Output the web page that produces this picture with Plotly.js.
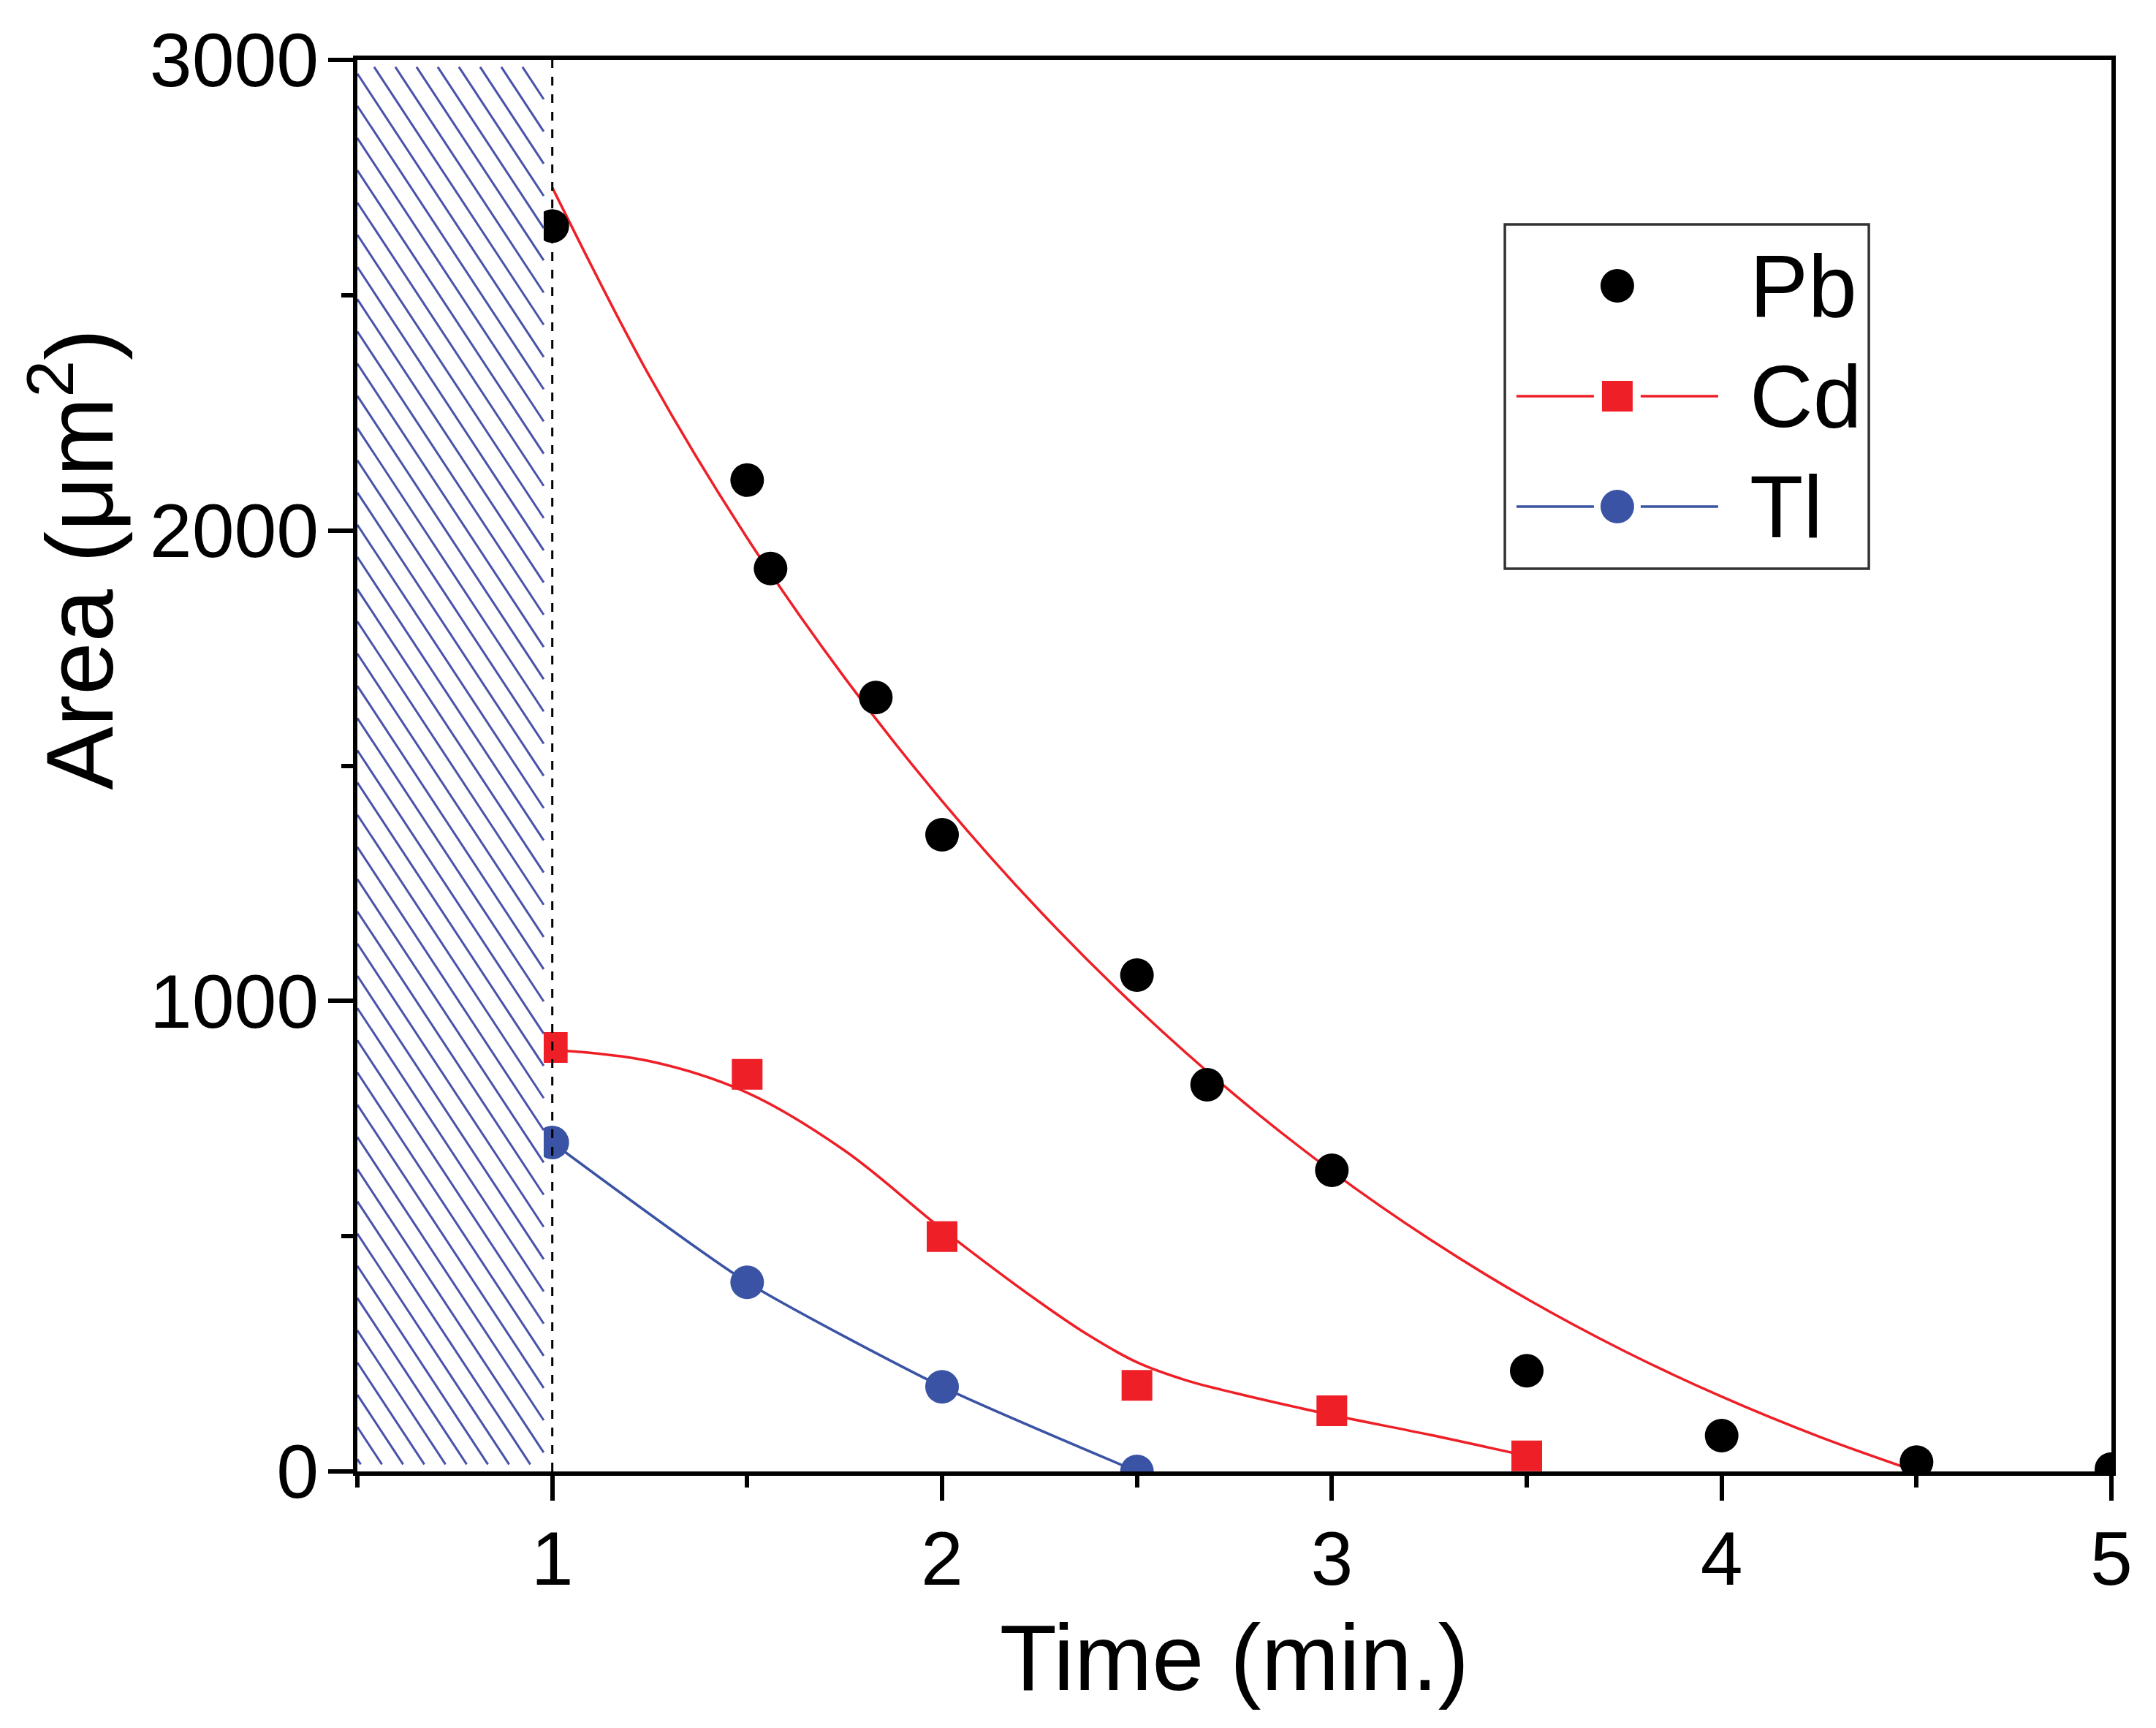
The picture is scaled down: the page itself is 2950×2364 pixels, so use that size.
<!DOCTYPE html>
<html>
<head>
<meta charset="utf-8">
<script src="https://cdn.plot.ly/plotly-3.0.1.min.js"></script>
<style>
  html, body { margin: 0; padding: 0; background: #fff; }
  #myDiv { width: 2950px; height: 2364px; }
</style>
</head>
<body>
<div id="myDiv"></div>
<script>
// measured points
var pbTime = [1, 1.5, 1.56, 1.83, 2, 2.5, 2.68, 3, 3.5, 4, 4.5, 5];
var pbArea = [2647, 2107, 1919, 1645, 1353, 1055, 822, 640, 214, 76, 20, 5];

var cdTime = [1, 1.5, 2, 2.5, 3, 3.5];
var cdArea = [901, 844, 499, 183, 129, 33];

var tlTime = [1, 1.5, 2, 2.5];
var tlArea = [699, 402, 180, 0];

// fitted curves
var pbFitTime = [1, 1.25, 1.5, 1.75, 2, 2.25, 2.5, 2.75, 3, 3.25, 3.5, 3.75, 4, 4.25, 4.5];
var pbFitArea = [2729, 2327, 1984, 1687, 1425, 1192, 985, 801, 638, 494, 367, 256, 159, 74, 0];

var cdFitTime = [1, 1.25, 1.5, 1.75, 2, 2.25, 2.375, 2.5, 2.625, 2.75, 3, 3.25, 3.5];
var cdFitArea = [896, 872, 805, 682, 515, 360, 290, 232, 194, 167, 120, 78, 33];

var legendNames = ['Pb', 'Cd', 'Tl'];

var RED = '#ee1f27';
var BLUE = '#3a53a4';
var FONT = 'Liberation Sans, Arial, sans-serif';

var xRange = [0.5, 5];
var yRange = [0, 3000];

// hatched band left of the dashed line
var hatchX = [0.5, 0.978];
var hatchY = [15, 2985];
var pxPerX = 2400 / (xRange[1] - xRange[0]);
var pxPerY = 1931 / (yRange[1] - yRange[0]);
var gapPx = 29, slopePx = 1.52;
var slope = slopePx * pxPerX / pxPerY;        // y units per x unit
var step = gapPx * slopePx / pxPerY;          // vertical spacing in y units

var hx = [], hy = [];
var cTop = hatchY[1] + slope * (hatchX[1] - hatchX[0]);
for (var c = cTop; c > hatchY[0]; c -= step) {
    var xa = Math.max(hatchX[0], hatchX[0] + (c - hatchY[1]) / slope);
    var xb = Math.min(hatchX[1], hatchX[0] + (c - hatchY[0]) / slope);
    if (xb <= xa) continue;
    hx.push(xa, xb, null);
    hy.push(c - slope * (xa - hatchX[0]), c - slope * (xb - hatchX[0]), null);
}

var data = [
    {
        x: pbFitTime, y: pbFitArea, mode: 'lines',
        line: {color: RED, width: 3.5, shape: 'spline', smoothing: 1},
        hoverinfo: 'skip'
    },
    {
        x: cdFitTime, y: cdFitArea, mode: 'lines',
        line: {color: RED, width: 3.5, shape: 'spline', smoothing: 1},
        hoverinfo: 'skip'
    },
    {
        x: tlTime, y: tlArea, mode: 'lines+markers', name: 'Tl',
        line: {color: BLUE, width: 3.5, shape: 'spline', smoothing: 0.6},
        marker: {color: BLUE, size: 46, symbol: 'circle'}
    },
    {
        x: cdTime, y: cdArea, mode: 'markers', name: 'Cd',
        marker: {color: RED, size: 42, symbol: 'square'}
    },
    {
        x: pbTime, y: pbArea, mode: 'markers', name: 'Pb',
        marker: {color: 'black', size: 46, symbol: 'circle'}
    },
    {
        x: [hatchX[0], hatchX[1], hatchX[1], hatchX[0]],
        y: [yRange[0], yRange[0], yRange[1], yRange[1]],
        mode: 'none', fill: 'toself', fillcolor: 'white',
        hoverinfo: 'skip'
    },
    {
        x: hx, y: hy, mode: 'lines',
        line: {color: '#4a52aa', width: 3},
        hoverinfo: 'skip'
    }
];

// custom legend (plotly caps legend markers at 16px)
var legX = 0.7183, legText = 0.7929;
var legY = [0.8400, 0.7618, 0.6836];
var legColor = ['black', RED, BLUE];
var legSymbol = ['circle', 'rect', 'circle'];
var legLine = [false, true, true];

var shapes = [
    {
        type: 'line', xref: 'x', yref: 'y', x0: 1, x1: 1, y0: yRange[0], y1: yRange[1],
        line: {color: 'black', width: 3, dash: '12px,12px'}
    },
    {
        type: 'rect', xref: 'paper', yref: 'paper',
        x0: 0.6542, x1: 0.8617, y0: 0.6396, y1: 0.8835,
        line: {color: '#333', width: 3.5}, fillcolor: 'rgba(0,0,0,0)'
    }
];
var annotations = [];

legendNames.forEach(function (name, i) {
    if (legLine[i]) {
        [[-138, -32], [32, 138]].forEach(function (seg) {
            shapes.push({
                type: 'line', xref: 'paper', yref: 'paper',
                xsizemode: 'pixel', ysizemode: 'pixel',
                xanchor: legX, yanchor: legY[i],
                x0: seg[0], x1: seg[1], y0: 0, y1: 0,
                line: {color: legColor[i], width: 3.5}
            });
        });
    }
    var r = legSymbol[i] === 'rect' ? 21 : 23;
    shapes.push({
        type: legSymbol[i], xref: 'paper', yref: 'paper',
        xsizemode: 'pixel', ysizemode: 'pixel',
        xanchor: legX, yanchor: legY[i],
        x0: -r, x1: r, y0: -r, y1: r,
        fillcolor: legColor[i], line: {width: 0}
    });
    annotations.push({
        text: name, xref: 'paper', yref: 'paper',
        x: legText, y: legY[i], xanchor: 'left', yanchor: 'middle',
        showarrow: false, font: {family: FONT, size: 120, color: 'black'}
    });
});

annotations.push({
    text: 'Area (\u03bcm<sup>2</sup>)', xref: 'paper', yref: 'paper',
    x: -0.162, y: 0.646, xanchor: 'center', yanchor: 'middle',
    textangle: -90, showarrow: false,
    font: {family: FONT, size: 130, color: 'black'}
});

var axisCommon = {
    showline: true, linewidth: 6, linecolor: 'black', mirror: true,
    ticks: 'outside', ticklen: 34, tickwidth: 6, tickcolor: 'black',
    showgrid: false, zeroline: false,
    tickfont: {family: FONT, size: 104, color: 'black'}
};

var layout = {
    width: 2950,
    height: 2364,
    margin: {l: 489, r: 61, t: 82, b: 351},
    paper_bgcolor: 'white',
    plot_bgcolor: 'white',
    showlegend: false,
    font: {family: FONT, color: 'black'},
    xaxis: Object.assign({}, axisCommon, {
        range: xRange, tickmode: 'linear', tick0: 1, dtick: 1,
        ticklabelstandoff: -10,
        minor: {tick0: 0.5, dtick: 0.5, ticks: 'outside', ticklen: 16, tickwidth: 6, tickcolor: 'black'},
        title: {text: 'Time (min.)', font: {family: FONT, size: 128, color: 'black'}, standoff: 36}
    }),
    yaxis: Object.assign({}, axisCommon, {
        range: yRange, tickmode: 'linear', tick0: 0, dtick: 1000,
        ticklabelstandoff: -8,
        minor: {tick0: 0, dtick: 500, ticks: 'outside', ticklen: 16, tickwidth: 6, tickcolor: 'black'}
    }),
    shapes: shapes,
    annotations: annotations
};

Plotly.newPlot('myDiv', data, layout, {displayModeBar: false, staticPlot: true});
</script>
</body>
</html>
